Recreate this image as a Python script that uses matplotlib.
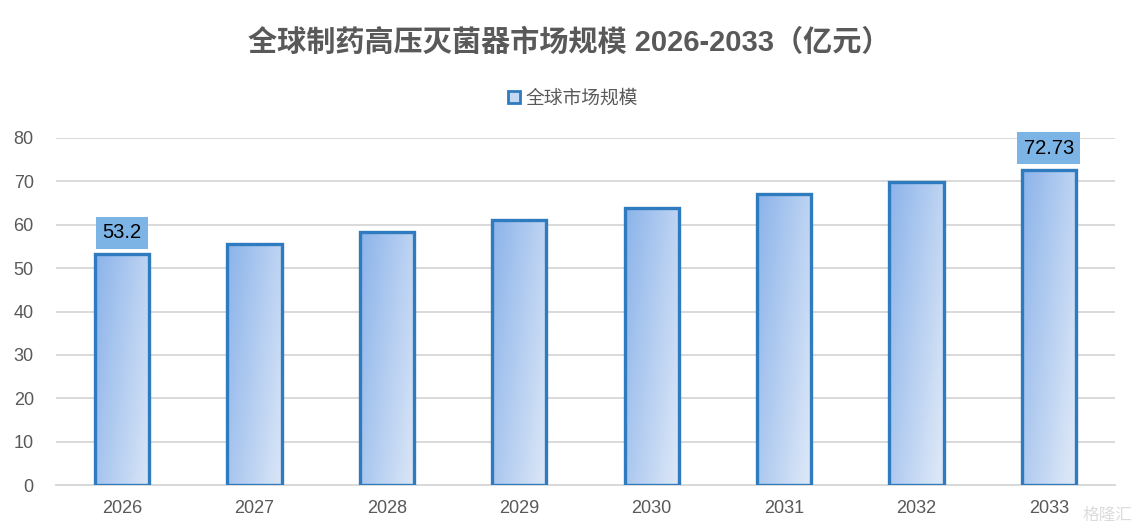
import matplotlib
matplotlib.use("Agg")
import matplotlib.pyplot as plt
import numpy as np
from matplotlib.patches import Rectangle
from matplotlib.colors import LinearSegmentedColormap

years = ["2026", "2027", "2028", "2029", "2030", "2031", "2032", "2033"]
values = [53.2, 55.6, 58.3, 61.1, 63.8, 67.0, 69.8, 72.73]
labels = {0: "53.2", 7: "72.73"}
title = "全球制药高压灭菌器市场规模 2026-2033（亿元）"
legend_label = "全球市场规模"

fam = ["Liberation Sans", "Noto Sans CJK SC", "DejaVu Sans"]
plt.rcParams['font.family'] = fam

fig = plt.figure(figsize=(11.39, 5.32), dpi=100)
ax = fig.add_axes([56/1139, 1-485/532, (1115-56)/1139, (485-138)/532])
ax.set_xlim(-0.5, len(years)-0.5)
ax.set_ylim(0, 80)

cmap = LinearSegmentedColormap.from_list("g", ["#8bb3ea", "#dae6f7"])
width = 0.41
edge = "#2e7bbf"
x = np.arange(len(years))
bars = ax.bar(x, values, width=width, facecolor="none", edgecolor=edge, linewidth=2.4, zorder=3)
gx, gy = np.meshgrid(np.linspace(0, 1, 64), np.linspace(0, 1, 256))
for b, v in zip(bars, values):
    bx = b.get_x()
    grad = 0.65*gx + 0.35*gy*(v/55)
    im = ax.imshow(grad, cmap=cmap, vmin=0, vmax=1.0, aspect="auto",
                   extent=[bx, bx+width, 0, v], origin="upper", zorder=2, interpolation="bilinear")
    im.set_clip_path(b)

ax.set_xlim(-0.5, len(years)-0.5)
ax.set_ylim(0, 80)

for i, t in labels.items():
    ax.annotate(t, (x[i], values[i]), xytext=(0, 15.5), textcoords="offset points",
                ha="center", va="center", fontsize=14.5, color="#000000", zorder=5,
                bbox=dict(boxstyle="square,pad=0.32", facecolor="#7db4e6", edgecolor="none"))

ax.set_yticks(range(0, 81, 10))
ax.set_xticks(x)
ax.set_xticklabels(years)
ax.tick_params(axis="both", length=0, labelsize=13, labelcolor="#595959")
ax.tick_params(axis="x", pad=11)
ax.tick_params(axis="y", pad=16)
ax.grid(axis="y", color="#d9d9d9", linewidth=1.4, zorder=0)
ax.set_axisbelow(True)
for s in ["top", "right", "left"]:
    ax.spines[s].set_visible(False)
ax.spines["bottom"].set_color("#d9d9d9")
ax.spines["bottom"].set_linewidth(1.4)

fig.text(569/1139, 1-43/532, title, ha="center", va="center", fontsize=21,
         fontweight="bold", color="#595959")

handle = Rectangle((0, 0), 1, 1, facecolor="#c5d8f2", edgecolor=edge, linewidth=2)
fig.legend([handle], [legend_label], loc="center", bbox_to_anchor=(573/1139, 1-99/532),
           frameon=False, fontsize=13.5, labelcolor="#595959", handlelength=0.6, handleheight=0.6,
           handletextpad=0.3)

fig.text(1083/1139, 1-515/532, "格隆汇", ha="left", va="center", fontsize=12,
         color="#d8d8d8", alpha=0.9)

fig.savefig("out.png", dpi=100)
